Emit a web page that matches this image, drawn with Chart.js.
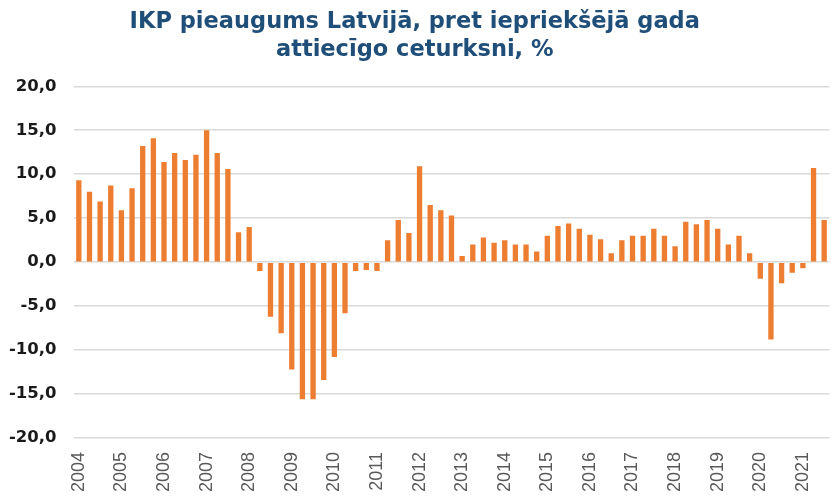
<!DOCTYPE html>
<html>
<head>
<meta charset="utf-8">
<script src="https://cdn.jsdelivr.net/npm/chart.js@4/dist/chart.umd.min.js"></script>
<style>
  html, body { margin: 0; padding: 0; background: #fff; }
  #wrap { width: 831px; height: 498px; }
</style>
</head>
<body>
<div id="wrap"><canvas id="gdpChart" width="831" height="498"></canvas></div>
<script>
// tick labels shown under the first quarter of every year
const years = ['2004', '2005', '2006', '2007', '2008', '2009', '2010', '2011', '2012',
               '2013', '2014', '2015', '2016', '2017', '2018', '2019', '2020', '2021'];
const quarters = ['Q1', 'Q2', 'Q3', 'Q4'];

// yoy GDP growth, %, 2004Q1 .. 2021Q3
const growth = [
    9.3, 8.0, 6.9, 8.7,      // 2004
    5.9, 8.4, 13.2, 14.1,    // 2005
    11.4, 12.4, 11.6, 12.2,  // 2006
    15.0, 12.4, 10.6, 3.4,   // 2007
    4.0, -1.0, -6.2, -8.1,   // 2008
    -12.2, -15.6, -15.6, -13.4, // 2009
    -10.8, -5.8, -1.0, -0.9, // 2010
    -1.0, 2.5, 4.8, 3.3,     // 2011
    10.9, 6.5, 5.9, 5.3,     // 2012
    0.7, 2.0, 2.8, 2.2,      // 2013
    2.5, 2.0, 2.0, 1.2,      // 2014
    3.0, 4.1, 4.4, 3.8,      // 2015
    3.1, 2.6, 1.0, 2.5,      // 2016
    3.0, 3.0, 3.8, 3.0,      // 2017
    1.8, 4.6, 4.3, 4.8,      // 2018
    3.8, 2.0, 3.0, 1.0,      // 2019
    -1.9, -8.8, -2.4, -1.2,  // 2020
    -0.7, 10.7, 4.8          // 2021
];

const yTicks = [-20, -15, -10, -5, 0, 5, 10, 15, 20];

const categories = [];
years.forEach(function (y) {
    quarters.forEach(function (q) { categories.push(y + ' ' + q); });
});
categories.length = growth.length;

document.addEventListener('DOMContentLoaded', function () {
    const ctx = document.getElementById('gdpChart').getContext('2d');
    new Chart(ctx, {
        type: 'bar',
        data: {
            labels: categories,
            datasets: [{
                label: 'IKP pieaugums',
                data: growth,
                backgroundColor: '#ED7D31',
                borderWidth: 0,
                barPercentage: 0.5,
                categoryPercentage: 1.0
            }]
        },
        options: {
            responsive: false,
            animation: false,
            layout: { padding: { left: 0, right: 1.5, top: 0, bottom: 0 } },
            plugins: {
                legend: { display: false },
                tooltip: { enabled: false },
                title: {
                    display: true,
                    text: ['IKP pieaugums Latvijā, pret iepriekšējā gada', 'attiecīgo ceturksni, %'],
                    color: '#1F4E79',
                    font: { family: 'DejaVu Sans', weight: 'bold', size: 22.5, lineHeight: 1.25 },
                    padding: { top: 8, bottom: 22 }
                }
            },
            scales: {
                x: {
                    grid: { display: false, drawTicks: false },
                    border: { display: false },
                    ticks: {
                        autoSkip: false,
                        minRotation: 90,
                        maxRotation: 90,
                        padding: 14,
                        color: '#595959',
                        font: { family: 'Liberation Sans', size: 18 },
                        callback: function (value, index) {
                            return index % 4 === 0 ? years[index / 4] : '';
                        }
                    },
                    afterFit: function (scale) {
                        scale.height = 60;
                        scale.paddingLeft = 0;
                        scale.paddingRight = 0;
                    }
                },
                y: {
                    min: yTicks[0],
                    max: yTicks[yTicks.length - 1],
                    afterBuildTicks: function (scale) {
                        scale.ticks = yTicks.map(function (v) { return { value: v }; });
                    },
                    grid: { color: '#D9D9D9', lineWidth: 1.5, drawTicks: false },
                    border: { display: false },
                    ticks: {
                        padding: 17,
                        color: '#1a1a1a',
                        font: { family: 'DejaVu Sans', weight: 'bold', size: 16.5 },
                        callback: function (v) { return v.toFixed(1).replace('.', ','); }
                    },
                    afterFit: function (scale) { scale.width = 73.5; }
                }
            }
        }
    });
});
</script>
</body>
</html>
